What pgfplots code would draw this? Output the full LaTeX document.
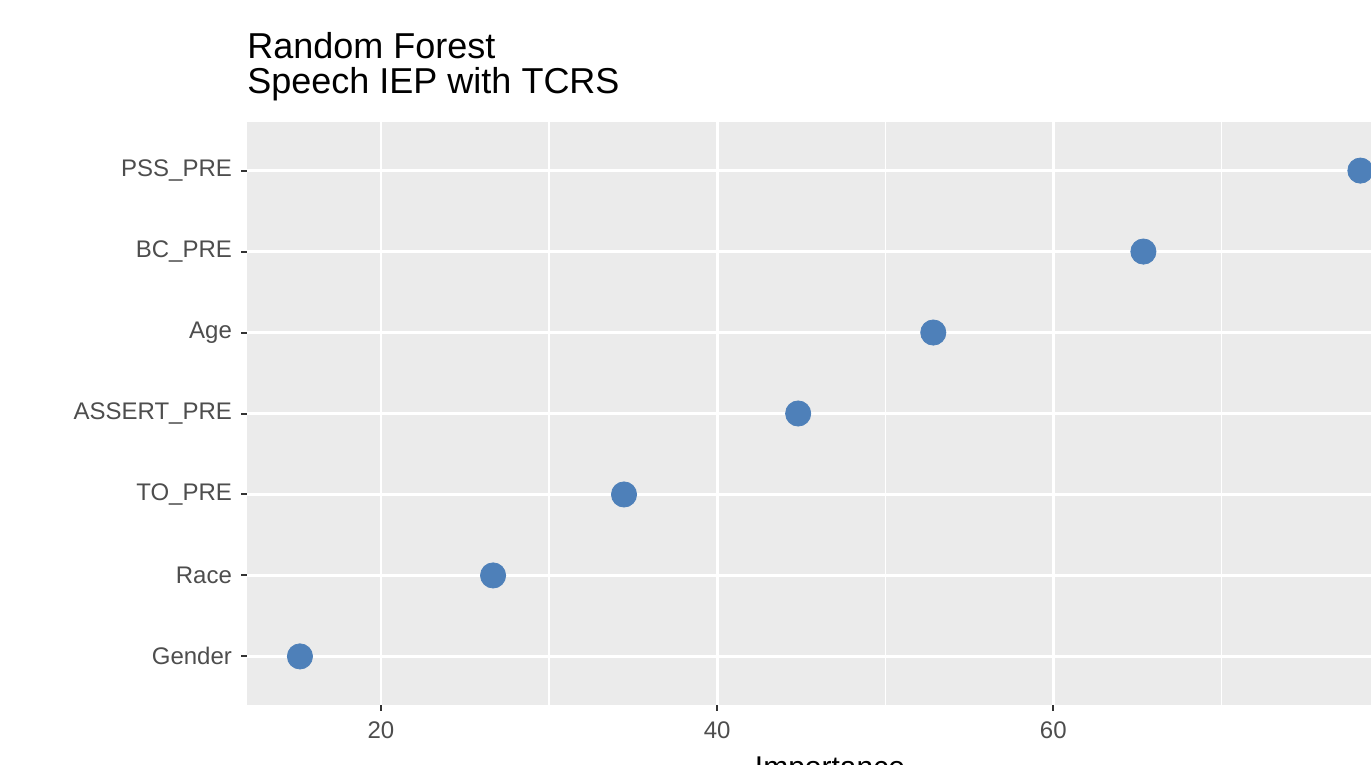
\documentclass[border=0pt]{standalone}
\usepackage{pgfplots}
\pgfplotsset{compat=1.18}
\usepackage{fontspec}
\setmainfont{Liberation Sans}
\definecolor{ggbg}{HTML}{EBEBEB}
\definecolor{ggtext}{HTML}{4D4D4D}
\definecolor{ggtick}{HTML}{333333}
\definecolor{ptblue}{RGB}{78,128,185}
\begin{document}
\begin{tikzpicture}
\begin{axis}[
  at={(123.5pt,30pt)}, anchor=south west,
  scale only axis, width=583pt, height=291.5pt,
  xmin=12.03, xmax=81.4, ymin=0.4, ymax=7.6,
  xtick={20,40,60}, minor xtick={30,50,70},
  ytick={1,2,3,4,5,6,7},
  yticklabels={Gender,Race,TO\_PRE,ASSERT\_PRE,Age,BC\_PRE,PSS\_PRE},
  axis background/.style={fill=ggbg},
  axis line style={draw=none},
  grid=both,
  major grid style={white, line width=1.4pt},
  minor grid style={white, line width=0.7pt},
  tick align=outside, xtick pos=lower, ytick pos=lower,
  major tick length=3pt, minor tick length=0pt,
  tick style={ggtick, line width=1pt},
  ticklabel style={font=\fontsize{12}{14}\selectfont, text=ggtext},
  /pgf/number format/assume math mode=true,
  xticklabel style={yshift=-2pt},
  yticklabel style={xshift=-1pt},
  xlabel={Importance},
  xlabel style={font=\fontsize{15}{18}\selectfont, text=black, yshift=-2pt},
  clip=false,
]
\addplot[only marks, mark=*, mark size=6.3pt, mark options={fill=ptblue, draw=ptblue}]
  coordinates {
  (15.18,1) (26.67,2) (34.46,3) (44.82,4) (52.86,5) (65.36,6) (78.27,7)
  };
\end{axis}
\node[anchor=base west, font=\fontsize{18}{21}\selectfont, inner sep=0pt] at (123.5pt,353pt) {Random Forest};
\node[anchor=base west, font=\fontsize{18}{21}\selectfont, inner sep=0pt] at (123.5pt,335.5pt) {Speech IEP with TCRS};
\pgfresetboundingbox
\useasboundingbox (0,0) rectangle (685.5pt,382.5pt);
\end{tikzpicture}
\end{document}
